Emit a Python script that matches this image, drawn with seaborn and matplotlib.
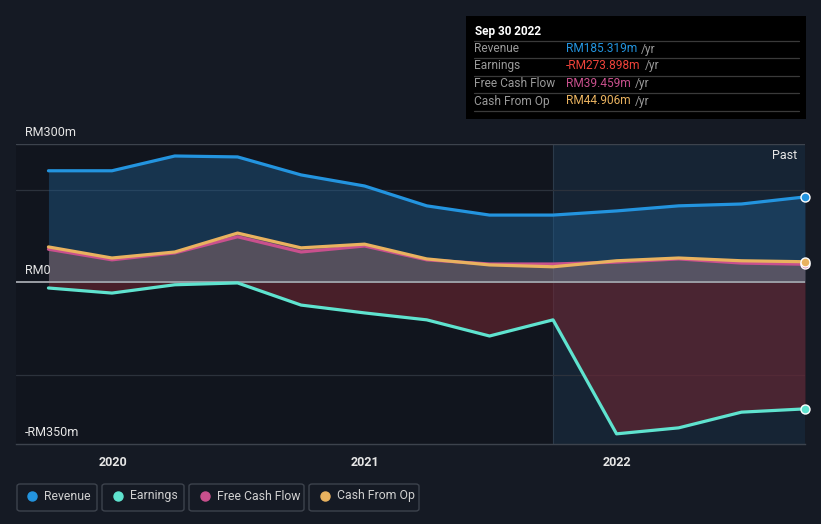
import pandas as pd
import matplotlib
matplotlib.use("Agg")
import matplotlib.pyplot as plt
import matplotlib.dates as mdates
from matplotlib.patches import FancyBboxPatch, Rectangle
from matplotlib.lines import Line2D
import seaborn as sns

# Данные (RM млн, скользящие 12 мес.)
quarters = ["2019-09-30", "2019-12-31", "2020-03-31", "2020-06-30", "2020-09-30",
            "2020-12-31", "2021-03-31", "2021-06-30", "2021-09-30", "2021-12-31",
            "2022-03-31", "2022-06-30", "2022-09-30"]
revenue = [242, 242, 274, 272, 233, 209, 166, 146, 146, 155, 166, 170, 185.319]
earnings = [-12, -23, -5, -1, -49, -66, -81, -116, -81, -328, -315, -281, -273.898]
free_cash_flow = [72, 49, 64, 99, 66, 79, 49, 40, 40, 44, 51, 42, 39.459]
cash_from_op = [77, 53, 66, 107, 75, 83, 51, 38, 34, 47, 53, 47, 44.906]

series_names = ["Revenue", "Earnings", "Free Cash Flow", "Cash From Op"]
tooltip_values = ["RM185.319m", "-RM273.898m", "RM39.459m", "RM44.906m"]
colors = {"Revenue": "#2394df", "Earnings": "#5fe3cf",
          "Free Cash Flow": "#c9508d", "Cash From Op": "#e9b25f"}
tooltip_colors = ["#2394df", "#f0433a", "#c9508d", "#e9b25f"]

df = pd.DataFrame({
    "date": pd.to_datetime(quarters),
    "Revenue": revenue,
    "Earnings": earnings,
    "Free Cash Flow": free_cash_flow,
    "Cash From Op": cash_from_op,
})
long_df = df.melt(id_vars="date", var_name="series", value_name="value")

BG = "#151a24"
W, H = 821, 524

sns.set_theme(style="dark")
plt.rcParams["font.family"] = ["Roboto", "DejaVu Sans"]

fig = plt.figure(figsize=(W / 100, H / 100), dpi=100, facecolor=BG)
ax = fig.add_axes([16 / W, 1 - 444 / H, (805 - 16) / W, 300 / H])
ax.set_facecolor(BG)


def fx(x):
    return x / W


def fy(y):
    return 1 - y / H


x0 = pd.Timestamp("2019-08-14")
x1 = pd.Timestamp("2022-09-30")
past_start = pd.Timestamp("2021-09-30")

# Фон "Past"
ax.axvspan(x0, past_start, color="#0b0e13", alpha=0.35, lw=0, zorder=0)
ax.axvspan(past_start, x1, color="#1d4a6e", alpha=0.22, lw=0, zorder=0)
ax.axvline(past_start, color="#2b3a4a", lw=0.8, zorder=1)

# Сетка
for v in [200, -200]:
    ax.axhline(v, color="#2c323c", lw=0.9, zorder=1)
ax.axhline(300, color="#3d434d", lw=1.0, zorder=1)

# Заливки
ax.fill_between(df["date"], 0, df["Revenue"], color="#1f5a8a", alpha=0.45, lw=0, zorder=2)
ax.fill_between(df["date"], 0, df["Cash From Op"], color="#a0706e", alpha=0.45, lw=0, zorder=3)
ax.fill_between(df["date"], 0, df["Earnings"], color="#6e2632", alpha=0.6, lw=0, zorder=2)

ax.axhline(0, color="#9a9ea5", lw=1.4, zorder=4)

# Линии
order = ["Revenue", "Free Cash Flow", "Cash From Op", "Earnings"]
for name in order:
    sub = long_df[long_df["series"] == name]
    sns.lineplot(data=sub, x="date", y="value", color=colors[name], lw=2.3,
                 ax=ax, zorder=5, legend=False)

last = df.iloc[-1]
for name in ["Revenue", "Free Cash Flow", "Cash From Op", "Earnings"]:
    ax.scatter([last["date"]], [last[name]], s=42, color=colors[name],
               edgecolor="white", linewidth=1.0, zorder=7, clip_on=False)

ax.set_xlim(x0, x1)
ax.set_ylim(-350, 300)
ax.set_xlabel("")
ax.set_ylabel("")
ax.set_yticks([])
ax.xaxis.set_major_locator(mdates.YearLocator())
ax.xaxis.set_major_formatter(mdates.DateFormatter("%Y"))
ax.tick_params(axis="x", colors="#4a505a", labelcolor="#e6e6e6", labelsize=9,
               length=4, width=1, direction="out", pad=5)
for lab in ax.get_xticklabels():
    lab.set_fontweight("bold")
for side in ["top", "left", "right"]:
    ax.spines[side].set_visible(False)
ax.spines["bottom"].set_color("#3d434d")
ax.spines["bottom"].set_linewidth(1.0)

# Подписи оси Y
for txt, y in [("RM300m", 132), ("RM0", 270), ("-RM350m", 432)]:
    fig.text(fx(25), fy(y), txt, color="#e6e6e6", fontsize=9, va="center", ha="left")

fig.text(fx(797), fy(156), "Past", color="#e6e6e6", fontsize=9, va="center", ha="right")

# Всплывающая подсказка
fig.patches.append(Rectangle((fx(466), fy(119)), fx(806) - fx(466), fy(16) - fy(119),
                             transform=fig.transFigure, facecolor="#000000",
                             edgecolor="none", zorder=10))
fig.text(fx(475), fy(31), "Sep 30 2022", color="#ffffff", fontsize=8.5,
         fontweight="bold", va="center", ha="left", zorder=11)
for yl in [41, 58, 76, 93, 111]:
    fig.add_artist(Line2D([fx(474), fx(799)], [fy(yl), fy(yl)], color="#3a3a3a",
                          lw=0.9, transform=fig.transFigure, zorder=11))
row_y = [49, 66, 84, 101]
for name, val, col, y in zip(series_names, tooltip_values, tooltip_colors, row_y):
    fig.text(fx(474), fy(y), name, color="#9a9a9a", fontsize=8.6, va="center",
             ha="left", zorder=11)
    t = fig.text(fx(566), fy(y), val, color=col, fontsize=8.6, va="center",
                 ha="left", zorder=11)
    fig.canvas.draw()
    bb = t.get_window_extent()
    fig.text(bb.x1 / W + fx(4), fy(y), "/yr", color="#9a9a9a", fontsize=8.6,
             va="center", ha="left", zorder=11)

# Легенда
legend_boxes = [(17, 97, 32, 44), (102, 184, 118, 130), (189, 304, 205, 217), (309, 419, 325, 337)]
for name, (bx0, bx1, mx, tx) in zip(series_names, legend_boxes):
    fig.patches.append(FancyBboxPatch((fx(bx0), fy(511)), fx(bx1) - fx(bx0), fy(484) - fy(511),
                                      boxstyle="round,pad=0,rounding_size=0.004",
                                      transform=fig.transFigure, facecolor="none",
                                      edgecolor="#3d434d", lw=1.0))
    fig.add_artist(Line2D([fx(mx)], [fy(496)], marker="o", markersize=6.5,
                          color=colors[name], lw=0, transform=fig.transFigure))
    fig.text(fx(tx), fy(496), name, color="#d0d0d0", fontsize=8.8, va="center", ha="left")

fig.savefig("out.png", dpi=100, facecolor=BG)
